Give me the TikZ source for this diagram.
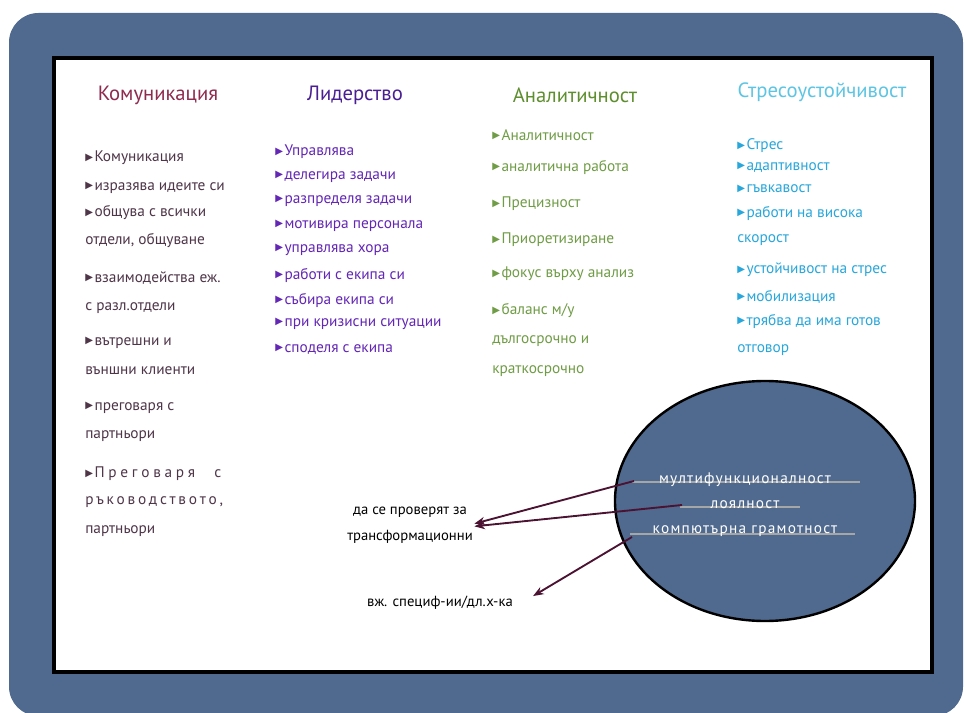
\documentclass[tikz,border=0pt]{standalone}
\usepackage{fontspec}
\setmainfont{PT Sans}
\newfontfamily\symfont{DejaVu Sans}
\usepackage{xcolor}
\usetikzlibrary{positioning,arrows.meta,shapes.geometric}

\definecolor{panelblue}{HTML}{4F6A8E}
\definecolor{komhead}{HTML}{8E2B4F}
\definecolor{komtext}{HTML}{4E3548}
\definecolor{lidhead}{HTML}{4A1F94}
\definecolor{lidtext}{HTML}{6326B5}
\definecolor{anahead}{HTML}{5E8E2E}
\definecolor{anatext}{HTML}{6F9C45}
\definecolor{strhead}{HTML}{5DC5E3}
\definecolor{strtext}{HTML}{27A7DB}
\definecolor{arrowred}{HTML}{4B1232}

\newcommand{\itbul}{\raisebox{1.2pt}{\symfont\fontsize{7.5}{8}\selectfont ▶}\kern1.2pt}

\begin{document}
\begin{tikzpicture}[x=0.75pt, y=-0.75pt, >={Stealth[length=8pt,width=6pt]},
  head/.style={font=\fontsize{15.5}{18}\selectfont},
  itm/.style={anchor=west, inner sep=0pt, font=\fontsize{11.5}{13}\selectfont},
  note/.style={align=center, inner sep=1pt, font=\fontsize{11}{19.5}\selectfont},
  ovaltxt/.style={text=white, inner sep=0pt,
                  font=\fontsize{11.5}{13}\selectfont\addfontfeatures{LetterSpace=8}},
  strike/.style={gray!70, line width=0.8pt},
  link/.style={->, arrowred, line width=1.4pt}]

  \useasboundingbox (0,0) rectangle (965,713);

  %% ─── Frame ─────────────────────────────────────────────────────────────
  \fill[panelblue, rounded corners=22] (9,13) rectangle (963,716);
  \draw[line width=2.4pt, fill=white] (54,58) rectangle (932,672);

  %% ─── Column 1: Комуникация ─────────────────────────────────────────────
  \node[head, text=komhead] (kom)   at (158,95) {Комуникация};
  \begin{scope}[every node/.append style={text=komtext}]
  \node[itm] (kom1)  at (85,158) {\itbul Комуникация};
  \node[itm] (kom2)  at (85,188) {\itbul изразява идеите си};
  \node[itm] (kom3)  at (85,213) {\itbul общува с всички};
  \node[itm] (kom3b) at (85,241) {отдели, общуване};
  \node[itm] (kom4)  at (85,278) {\itbul взаимодейства еж.};
  \node[itm] (kom4b) at (85,308) {с разл.отдели};
  \node[itm] (kom5)  at (85,343) {\itbul вътрешни и};
  \node[itm] (kom5b) at (85,371) {външни клиенти};
  \node[itm] (kom6)  at (85,408) {\itbul преговаря с};
  \node[itm] (kom6b) at (85,436) {партньори};
  \node[itm] (kom7)  at (85,474) {\makebox[102pt][s]{\itbul П р е г о в а р я \quad с}};
  \node[itm] (kom7b) at (85,502) {\makebox[100pt][s]{р ъ к о в о д с т в о т о ,}};
  \node[itm] (kom7c) at (85,531) {партньори};
  \end{scope}

  %% ─── Column 2: Лидерство ───────────────────────────────────────────────
  \node[head, text=lidhead] (lid) at (355,95) {Лидерство};
  \begin{scope}[every node/.append style={text=lidtext}]
  \node[itm] (lid1) at (275,152) {\itbul Управлява};
  \node[itm] (lid2) at (275,177) {\itbul делегира задачи};
  \node[itm] (lid3) at (275,201) {\itbul разпределя задачи};
  \node[itm] (lid4) at (275,226) {\itbul мотивира персонала};
  \node[itm] (lid5) at (275,250) {\itbul управлява хора};
  \node[itm] (lid6) at (275,275) {\itbul работи с екипа си};
  \node[itm] (lid7) at (275,300) {\itbul събира екипа си};
  \node[itm] (lid8) at (275,324) {\itbul при кризисни ситуации};
  \node[itm] (lid9) at (275,349) {\itbul споделя с екипа};
  \end{scope}

  %% ─── Column 3: Аналитичност ────────────────────────────────────────────
  \node[head, text=anahead] (ana) at (575,95) {Аналитичност};
  \begin{scope}[every node/.append style={text=anatext}]
  \node[itm] (ana1)  at (492,135) {\itbul Аналитичност};
  \node[itm] (ana2)  at (492,167) {\itbul аналитична работа};
  \node[itm] (ana3)  at (492,204) {\itbul Прецизност};
  \node[itm] (ana4)  at (492,240) {\itbul Приоретизиране};
  \node[itm] (ana5)  at (492,274) {\itbul фокус върху анализ};
  \node[itm] (ana6)  at (492,311) {\itbul баланс м/у};
  \node[itm] (ana6b) at (492,341) {дългосрочно и};
  \node[itm] (ana6c) at (492,371) {краткосрочно};
  \end{scope}

  %% ─── Column 4: Стресоустойчивост ───────────────────────────────────────
  \node[head, text=strhead] (str) at (822,92) {Стресоустойчивост};
  \begin{scope}[every node/.append style={text=strtext}]
  \node[itm] (str1)  at (737,146) {\itbul Стрес};
  \node[itm] (str2)  at (737,167) {\itbul адаптивност};
  \node[itm] (str3)  at (737,189) {\itbul гъвкавост};
  \node[itm] (str4)  at (737,213) {\itbul работи на висока};
  \node[itm] (str4b) at (737,240) {скорост};
  \node[itm] (str5)  at (737,270) {\itbul устойчивост на стрес};
  \node[itm] (str6)  at (737,297) {\itbul мобилизация};
  \node[itm] (str7)  at (737,321) {\itbul трябва да има готов};
  \node[itm] (str7b) at (737,350) {отговор};
  \end{scope}

  %% ─── Oval with the extra qualities ─────────────────────────────────────
  \node[ellipse, draw=black, line width=1.8pt, fill=panelblue,
        minimum width=225pt, minimum height=180pt] (oval) at (765,501) {};
  \draw[strike] (632,482) -- (860,482);
  \draw[strike] (680,507) -- (800,507);
  \draw[strike] (630,534) -- (855,534);
  \node[ovaltxt] (multi) at (745,480) {мултифункционалност};
  \node[ovaltxt] (loyal) at (745,505) {лоялност};
  \node[ovaltxt] (comp)  at (745,531) {компютърна грамотност};

  \coordinate (multi_in) at (634,481);
  \coordinate (loyal_in) at (682,505);
  \coordinate (comp_in)  at (632,537);

  %% ─── Notes and links ───────────────────────────────────────────────────
  \node[note] (check) at (410,525) {да се проверят за\\трансформационни};
  \node[note] (spec)  at (440,603) {вж. специф-ии/дл.х-ка};

  \draw[link] (multi_in) -- ([yshift=1pt]check.east);
  \draw[link] (loyal_in) -- ([yshift=-1pt]check.east);
  \draw[link] (comp_in)  -- ([xshift=14pt,yshift=-1pt]spec.north east);
\end{tikzpicture}
\end{document}
